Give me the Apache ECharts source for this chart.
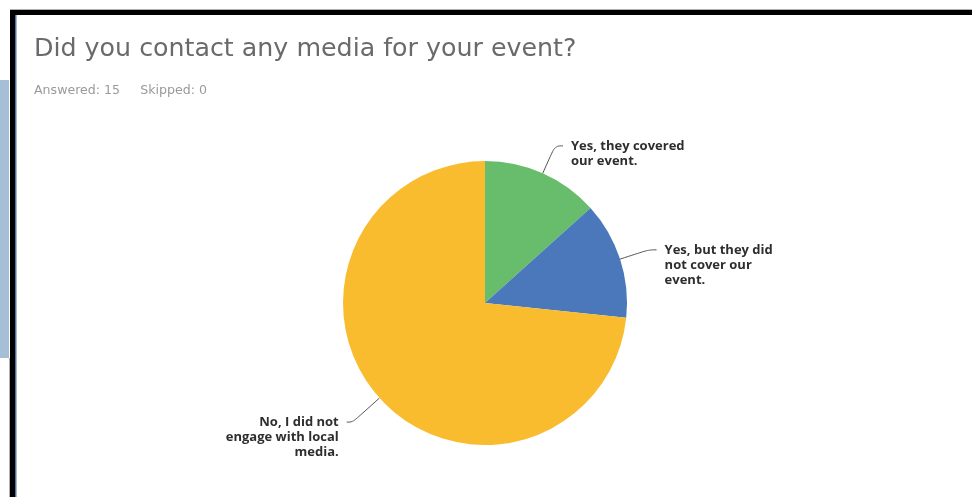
<!DOCTYPE html>
<html>
<head>
<meta charset="utf-8">
<script src="https://cdn.jsdelivr.net/npm/echarts@6/dist/echarts.min.js"></script>
<style>
  html, body { margin: 0; padding: 0; background: #fff; }
  #main { width: 972px; height: 497px; }
</style>
</head>
<body>
<div id="main"></div>
<script>
// survey answers (15 answered)
let answers = ['Yes, they covered\nour event.', 'Yes, but they did\nnot cover our\nevent.', 'No, I did not\nengage with local\nmedia.']
let counts = [2, 2, 11]
let sliceColors = ['#68bd6c', '#4a78bb', '#f8bc2e']

let chart = echarts.init(document.getElementById('main'))

let option = {
  animation: false,
  backgroundColor: '#ffffff',
  title: {
    text: 'Did you contact any media for your event?',
    subtext: 'Answered: 15     Skipped: 0',
    left: 29,
    top: 32,
    itemGap: 22,
    textStyle: {
      fontFamily: 'DejaVu Sans',
      fontSize: 25.3,
      fontWeight: 'normal',
      color: '#6a6a6a'
    },
    subtextStyle: {
      fontFamily: 'DejaVu Sans',
      fontSize: 12.6,
      color: '#9a9a9a'
    }
  },
  graphic: [
    // left panel behind the frame
    { type: 'rect', shape: { x: 0, y: 80, width: 9, height: 278 }, style: { fill: '#a7bfd6' }, silent: true },
    { type: 'rect', shape: { x: 10, y: 9, width: 962, height: 1 }, style: { fill: '#b0b0b0' }, silent: true },
    { type: 'rect', shape: { x: 9, y: 358, width: 1, height: 139 }, style: { fill: '#b0b0b0' }, silent: true },
    { type: 'rect', shape: { x: 10, y: 10, width: 962, height: 5 }, style: { fill: '#000' }, silent: true },
    { type: 'rect', shape: { x: 10, y: 10, width: 5, height: 487 }, style: { fill: '#000' }, silent: true },
    { type: 'rect', shape: { x: 15, y: 15, width: 1.5, height: 482 }, style: { fill: '#4a72a6' }, silent: true }
  ],
  series: [
    {
      type: 'pie',
      center: [485, 303],
      radius: 142,
      startAngle: 90,
      clockwise: true,
      avoidLabelOverlap: false,
      label: {
        show: true,
        position: 'outside',
        fontFamily: 'Open Sans',
        fontWeight: 'bold',
        fontSize: 13,
        lineHeight: 15,
        color: '#2e2e2e',
        distanceToLabelLine: 8,
        // lead with empty lines so the leader line meets the first text line
        formatter: function (p) {
          let lines = p.name.split('\n').length
          return '\n'.repeat(lines - 1) + p.name
        }
      },
      labelLine: {
        show: true,
        length: 30,
        length2: 8,
        smooth: 0.4,
        lineStyle: { color: '#555', width: 1 }
      },
      data: answers.map(function (name, i) {
        let item = {
          name: name,
          value: counts[i],
          itemStyle: { color: sliceColors[i] }
        }
        // the big slice's leader reaches a bit further down
        if (i === 2) item.labelLine = { length: 36, length2: 6 }
        return item
      })
    }
  ]
}
chart.setOption(option)
</script>
</body>
</html>
